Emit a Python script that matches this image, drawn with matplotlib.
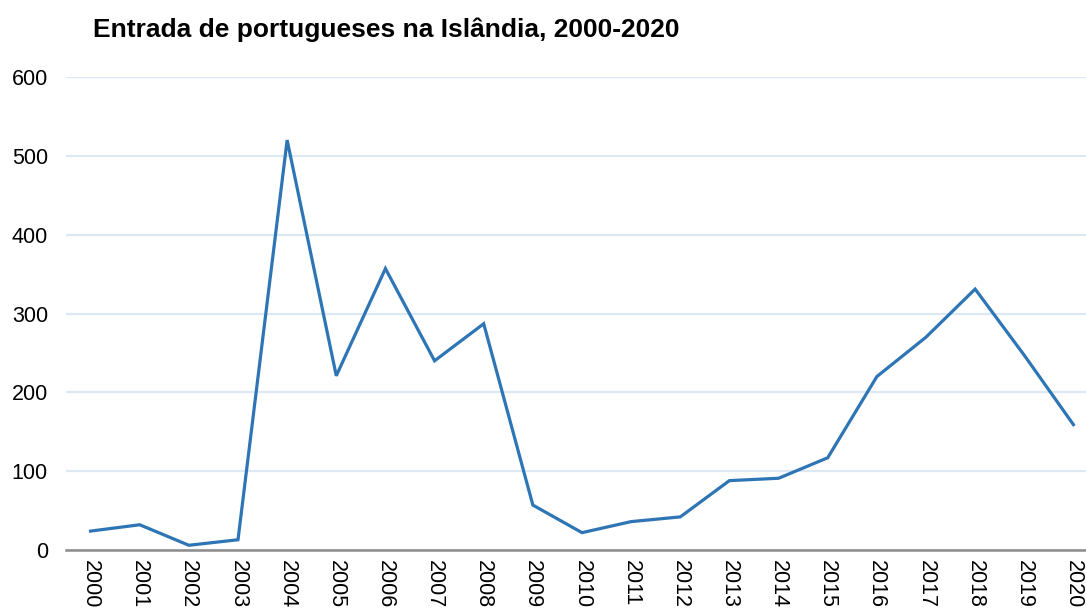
import matplotlib
matplotlib.use('Agg')
import matplotlib.pyplot as plt

plt.rcParams['font.family'] = ['Liberation Sans', 'DejaVu Sans']

years = [str(y) for y in range(2000, 2021)]
entradas = [24, 32, 6, 13, 520, 221, 357, 240, 287, 57, 22, 36, 42, 88, 91, 117, 220, 270, 331, 247, 159]
y_ticks = [0, 100, 200, 300, 400, 500, 600]

fig = plt.figure(figsize=(10.86, 6.10), dpi=100)
# category width ~49 px, so the plot area runs a little past the right edge
ax = fig.add_axes([66 / 1086, 1 - 550 / 610, 1032 / 1086, (550 - 77) / 610])

ax.plot(range(len(years)), entradas, color='#2E75B6', linewidth=2.3, solid_joinstyle='miter')

ax.set_xlim(-0.5, len(years) - 0.5)
ax.set_ylim(0, 600)
ax.set_yticks(y_ticks)
ax.set_xticks(range(len(years)))
ax.set_xticklabels(years, rotation=270, fontsize=15.5)
ax.tick_params(axis='y', length=0, pad=13, labelsize=15.5)
ax.tick_params(axis='x', length=0, pad=7)

ax.grid(axis='y', color='#DCE9F5', linewidth=1.6)
ax.set_axisbelow(True)
for s in ['top', 'right', 'left']:
    ax.spines[s].set_visible(False)
ax.spines['bottom'].set_color('#8C8C8C')
ax.spines['bottom'].set_linewidth(1.8)
ax.spines['bottom'].set_zorder(3)

fig.text(93 / 1086, 1 - 30 / 610, 'Entrada de portugueses na Islândia, 2000-2020',
         fontsize=19, fontweight='bold', va='center', ha='left')

fig.savefig('out.png', dpi=100)
